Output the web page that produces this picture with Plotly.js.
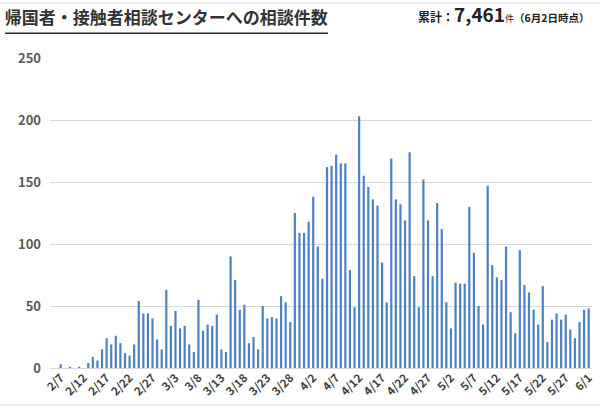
<!DOCTYPE html>
<html>
<head>
<meta charset="utf-8">
<script src="https://cdn.plot.ly/plotly-3.0.1.min.js"></script>
<style>html,body{margin:0;padding:0;background:#fff;}#chart{width:600px;height:410px;}</style>
</head>
<body>
<div id="chart"></div>
<script>
// Dates 2/7 .. 6/1 (2020)
const dates = [
 "2/7","2/8","2/9","2/10","2/11","2/12","2/13","2/14","2/15","2/16","2/17","2/18","2/19","2/20","2/21","2/22","2/23","2/24","2/25","2/26","2/27","2/28","2/29",
 "3/1","3/2","3/3","3/4","3/5","3/6","3/7","3/8","3/9","3/10","3/11","3/12","3/13","3/14","3/15","3/16","3/17","3/18","3/19","3/20","3/21","3/22","3/23","3/24","3/25","3/26","3/27","3/28","3/29","3/30","3/31",
 "4/1","4/2","4/3","4/4","4/5","4/6","4/7","4/8","4/9","4/10","4/11","4/12","4/13","4/14","4/15","4/16","4/17","4/18","4/19","4/20","4/21","4/22","4/23","4/24","4/25","4/26","4/27","4/28","4/29","4/30",
 "5/1","5/2","5/3","5/4","5/5","5/6","5/7","5/8","5/9","5/10","5/11","5/12","5/13","5/14","5/15","5/16","5/17","5/18","5/19","5/20","5/21","5/22","5/23","5/24","5/25","5/26","5/27","5/28","5/29","5/30","5/31",
 "6/1"
];
const consultations = [
 3,0,1,0,1,0,4,9,6,15,24,19,26,20,12,10,19,54,44,44,40,23,15,
 63,34,46,32,34,19,13,55,30,35,34,43,15,13,90,71,47,51,20,25,15,50,40,41,40,58,53,37,125,109,109,
 118,138,98,72,162,163,172,165,165,79,49,203,155,146,136,131,85,53,169,136,132,119,174,74,49,152,119,74,133,112,
 53,32,69,68,68,130,93,50,35,147,83,73,71,98,45,28,95,67,61,47,35,66,21,39,44,39,43,31,24,37,47,
 48
];
const tickLabels = ["2/7","2/12","2/17","2/22","2/27","3/3","3/8","3/13","3/18","3/23","3/28","4/2","4/7","4/12","4/17","4/22","4/27","5/2","5/7","5/12","5/17","5/22","5/27","6/1"];
const yTicks = [0,50,100,150,200,250];
const titleText = "帰国者・接触者相談センターへの相談件数";
const totalText = "<b>累計：</b><b><span style='font-size:19px'>7,461</span></b><span style='font-size:9px'>件</span><b><span style='font-size:10.5px'>（6月2日時点）</span></b>";

const FONT = "Noto Sans CJK JP, Noto Sans, sans-serif";

const trace = {
  type: "bar",
  x: dates,
  y: consultations,
  marker: {color: "#4d82c2", line: {width: 0}},
  hoverinfo: "x+y"
};

const layout = {
  width: 600, height: 410,
  margin: {l: 50, r: 8, t: 58, b: 42},
  paper_bgcolor: "#fff", plot_bgcolor: "#fff",
  bargap: 0.52,
  showlegend: false,
  font: {family: FONT, color: "#404040"},
  title: {
    text: "<b>" + titleText + "</b>",
    font: {family: FONT, size: 17, color: "#333"},
    xref: "container", x: 0.008, xanchor: "left",
    yref: "container", y: 0.956, yanchor: "middle"
  },
  xaxis: {
    type: "category",
    categoryorder: "array", categoryarray: dates,
    range: [-2.33, 115.72],
    tickmode: "array", tickvals: tickLabels, ticktext: tickLabels.map(t => "<b>" + t + "</b>"),
    tickangle: -45,
    tickfont: {family: FONT, size: 11.5, color: "#404040"},
    showgrid: false, zeroline: false, showline: false, ticks: "",
    fixedrange: true
  },
  yaxis: {
    range: [0, 250],
    tickmode: "array", tickvals: yTicks, ticktext: yTicks.map(v => "<b>" + v + "</b>"),
    tickfont: {family: FONT, size: 13, color: "#595959"},
    showgrid: true, gridcolor: "#d9d9d9", gridwidth: 1,
    zeroline: true, zerolinecolor: "#d9d9d9", zerolinewidth: 1,
    showline: false, ticks: "", ticklabelstandoff: 8,
    fixedrange: true
  },
  annotations: [{
    text: totalText,
    xref: "paper", yref: "paper",
    x: 0.998, y: 1.143, xanchor: "right", yanchor: "middle",
    showarrow: false,
    font: {family: FONT, size: 12, color: "#222"}
  }],
  shapes: [
    {type: "line", xref: "paper", yref: "paper", x0: -0.083, x1: 0.513, y0: 1.08, y1: 1.08, line: {color: "#333", width: 1.5}},
    {type: "line", xref: "paper", yref: "paper", x0: -0.092, x1: 1.015, y0: 1.177, y1: 1.177, line: {color: "#e0e0e0", width: 1}},
    {type: "line", xref: "paper", yref: "paper", x0: -0.092, x1: 1.015, y0: -0.119, y1: -0.119, line: {color: "#e0e0e0", width: 1}}
  ]
};

Plotly.newPlot("chart", [trace], layout, {displayModeBar: false, staticPlot: true});
</script>
</body>
</html>
